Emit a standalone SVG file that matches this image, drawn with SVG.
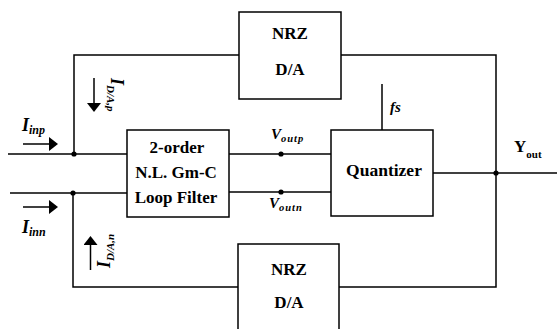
<svg xmlns="http://www.w3.org/2000/svg" width="557" height="329" viewBox="0 0 557 329">
<style>
.box{fill:#fff;stroke:#000;stroke-width:1.5}
.w{fill:none;stroke:#000;stroke-width:1.5}
.t{font-family:"Liberation Serif","Times New Roman",serif;font-weight:bold;fill:#000}
.c{text-anchor:middle}
.i{font-style:italic}
</style>
<defs>
<marker id="ah" markerWidth="9" markerHeight="14" refX="0" refY="7" orient="auto" markerUnits="userSpaceOnUse">
<path d="M0,0 L9,7 L0,14 Z" fill="#000"/>
</marker>
</defs>
<rect width="557" height="329" fill="#fff"/>
<g id="connectors">
<polyline class="w" points="239,55 74,55 74,154"/>
<polyline class="w" points="341,55 496,55 496,287 339,287"/>
<line class="w" x1="8" y1="154" x2="127" y2="154"/>
<polyline class="w" points="10,193 127,193"/>
<polyline class="w" points="73,193 73,287 238,287"/>
<line class="w" x1="229" y1="154" x2="331" y2="154"/>
<line class="w" x1="229" y1="192" x2="331" y2="192"/>
<line class="w" x1="382" y1="84" x2="382" y2="130"/>
<line class="w" x1="433" y1="173" x2="557" y2="173"/>
<circle cx="74" cy="154" r="2.6"/>
<circle cx="73" cy="193" r="2.6"/>
<circle cx="281" cy="154" r="2.6"/>
<circle cx="281" cy="192" r="2.6"/>
<circle cx="496" cy="173" r="2.6"/>
<line class="w" x1="23" y1="144" x2="49" y2="144" marker-end="url(#ah)"/>
<line class="w" x1="23" y1="207" x2="49" y2="207" marker-end="url(#ah)"/>
<line class="w" x1="94" y1="78" x2="94" y2="103" marker-end="url(#ah)"/>
<line class="w" x1="90.5" y1="270" x2="90.5" y2="245" marker-end="url(#ah)"/>
</g>
<g id="nrz-top">
<rect class="box" x="239" y="12" width="102" height="87"/>
<text class="t c" x="290" y="39" font-size="17">NRZ</text>
<text class="t c" x="290" y="75" font-size="17">D/A</text>
</g>
<g id="nrz-bottom">
<rect class="box" x="238" y="244" width="101" height="95"/>
<text class="t c" x="289" y="275" font-size="17">NRZ</text>
<text class="t c" x="289" y="308" font-size="17">D/A</text>
</g>
<g id="filter">
<rect class="box" x="127" y="130" width="102" height="87"/>
<text class="t c" x="177" y="153" font-size="17">2-order</text>
<text class="t c" x="176" y="178" font-size="17">N.L. Gm-C</text>
<text class="t c" x="176" y="203" font-size="17">Loop Filter</text>
</g>
<g id="quantizer">
<rect class="box" x="331" y="130" width="102" height="86"/>
<text class="t c" x="384" y="176" font-size="17.5">Quantizer</text>
</g>
<g id="labels">
<text class="t i" x="22" y="131" font-size="18">I<tspan font-size="12" dy="3">inp</tspan></text>
<text class="t i" x="22" y="233" font-size="18">I<tspan font-size="12" dy="3">inn</tspan></text>
<text class="t i" transform="translate(111,78) rotate(90)" font-size="18">I<tspan font-size="11" dy="4">D/A,p</tspan></text>
<text class="t i" transform="translate(110,268) rotate(-90)" font-size="18">I<tspan font-size="11" dy="4">D/A,n</tspan></text>
<text class="t i" x="271" y="139" font-size="15">V<tspan font-size="10.5" dy="3" letter-spacing="1">outp</tspan></text>
<text class="t i" x="269" y="208" font-size="15">V<tspan font-size="10.5" dy="3" letter-spacing="1">outn</tspan></text>
<text class="t i" x="390" y="112" font-size="15">fs</text>
<text class="t" x="514" y="152" font-size="17">Y<tspan font-size="11" dy="6">out</tspan></text>
</g>
</svg>
